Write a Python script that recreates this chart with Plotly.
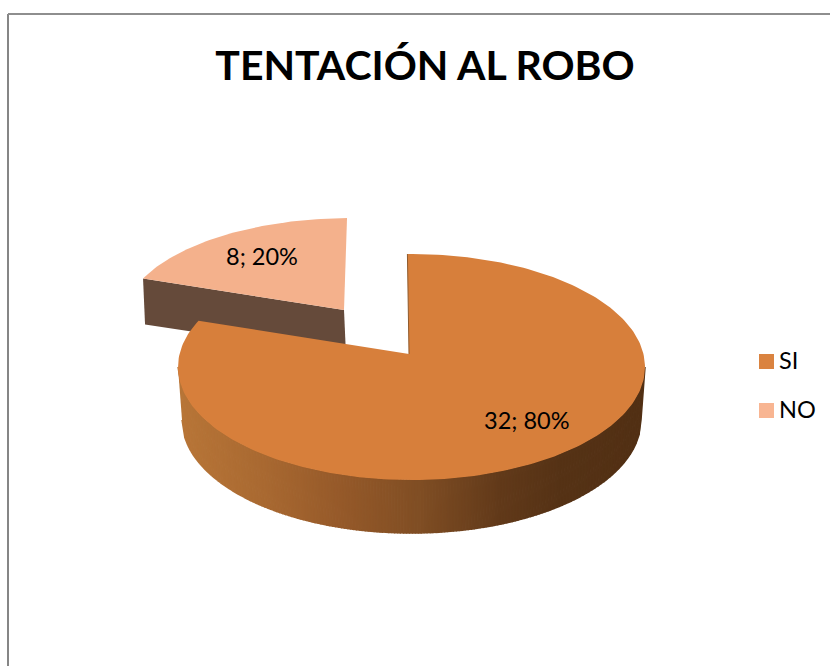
import numpy as np
from plotly import graph_objs as go

labels = ["SI", "NO"]
values = [32, 8]
title_text = "TENTACIÓN AL ROBO"

top_colors = ["#D77F3B", "#F4B18C"]
legend_colors = ["#DA8340", "#F8B592"]
side_no = "#654A3A"
# gradient of the rim, left to right
rim_x = [178, 260, 340, 420, 500, 560, 645]
rim_rgb = [(184, 118, 56), (170, 106, 50), (150, 90, 42), (128, 78, 36), (98, 58, 26), (86, 51, 22), (82, 48, 20)]

total = sum(values)
persp = 1.025  # the far edge looks narrower, so the sweep is a bit stretched on screen


def ell(cx, cy, rx, ry, deg):
    t = np.radians(deg)
    return cx + rx * np.sin(t), cy - ry * np.cos(t)


def closed(xs, ys, color, line=0):
    return go.Scatter(x=list(xs), y=list(ys), mode="lines", fill="toself", fillcolor=color,
                      line=dict(color=color, width=line), hoverinfo="skip", showlegend=False)


sweep_si = 360 * values[0] / total * persp
start = -1
end_si = start + sweep_si

data = []

# exploded slice
a_no = np.linspace(end_si, start + 360, 60)
nx, ny = ell(351, 320.5, 228, 102.5, a_no)
first = ell(351, 320.5, 228, 102.5, end_si)
data.append(closed([first[0], 344, 346, first[0] + 2], [first[1], 310, 355, first[1] + 46], side_no))
data.append(closed(np.r_[344, nx], np.r_[310, ny], top_colors[1]))

# rim of the big slice, cut in equal widths
cuts = np.arange(178, 646, 3.0)
cuts = np.r_[cuts, 645]
strips = 180 - np.degrees(np.arcsin(np.clip((cuts - 411.5) / 233.5, -1, 1)))
for a0, a1 in zip(strips[:-1], strips[1:]):
    tx0, ty0 = ell(411.5, 367, 233.5, 113, a0)
    tx1, ty1 = ell(411.5, 367, 233.5, 113, a1)
    bx0, by0 = ell(411.5, 420, 229.5, 113, a0)
    bx1, by1 = ell(411.5, 420, 229.5, 113, a1)
    mid = (tx0 + tx1) / 2
    rgb = [int(np.interp(mid, rim_x, [c[i] for c in rim_rgb])) for i in range(3)]
    col = "rgb(%d,%d,%d)" % tuple(rgb)
    data.append(closed([tx0, tx1, bx1, bx0], [ty0, ty1, by1, by0], col, line=1.5))

# top of the big slice
a_si = np.linspace(start, end_si, 240)
sx, sy = ell(411.5, 367, 233.5, 113, a_si)
data.append(closed(np.r_[409, sx], np.r_[354, sy], top_colors[0]))
data.append(go.Scatter(x=[sx[0], 409], y=[sy[0], 354], mode="lines",
                       line=dict(color="#8F5A2C", width=1), hoverinfo="skip", showlegend=False))

# legend, squares here and the text as annotations below
legend_y = [361.5, 410.5]
data.append(go.Scatter(x=[766.5, 766.5], y=legend_y, mode="markers", cliponaxis=False,
                       hoverinfo="skip", showlegend=False,
                       marker=dict(symbol="square", size=15, color=legend_colors)))

annotations = []
label_pos = [(527, 420), (262, 256)]
for v, (px, py) in zip(values, label_pos):
    annotations.append(dict(x=px, y=py, xref="x", yref="y", showarrow=False,
                            text="%d; %d%%" % (v, round(100 * v / total)),
                            font=dict(family="Lato", size=23.5, color="#000000")))
for name, py in zip(labels, legend_y):
    annotations.append(dict(x=780, y=py, xref="x", yref="y", xanchor="left", showarrow=False, text=name,
                            xshift=-3, yshift=2, font=dict(family="Lato", size=23.5, color="#000000")))

layout = go.Layout(
    width=830,
    height=666,
    margin=dict(l=0, r=0, t=0, b=0),
    paper_bgcolor="#FFFFFF",
    plot_bgcolor="#FFFFFF",
    showlegend=False,
    title=dict(text="<b>" + title_text + "</b>", x=425 / 830, xanchor="center", y=1 - 66 / 666, yanchor="middle",
               font=dict(family="Lato", size=41, color="#000000")),
    xaxis=dict(range=[0, 830], visible=False, fixedrange=True),
    yaxis=dict(range=[666, 0], visible=False, fixedrange=True),
    annotations=annotations,
    shapes=[
        dict(type="line", xref="paper", yref="paper", x0=8 / 830, x1=8 / 830, y0=0, y1=1 - 14 / 666,
             line=dict(color="#868686", width=2)),
        dict(type="line", xref="paper", yref="paper", x0=8 / 830, x1=1, y0=1 - 14 / 666, y1=1 - 14 / 666,
             line=dict(color="#8E8E8E", width=2)),
    ],
)

fig = go.Figure(data=data, layout=layout)
# page margin would push the chart off by 8px
fig.write_html("out.html", config=dict(displayModeBar=False), post_script="document.body.style.margin='0';")
